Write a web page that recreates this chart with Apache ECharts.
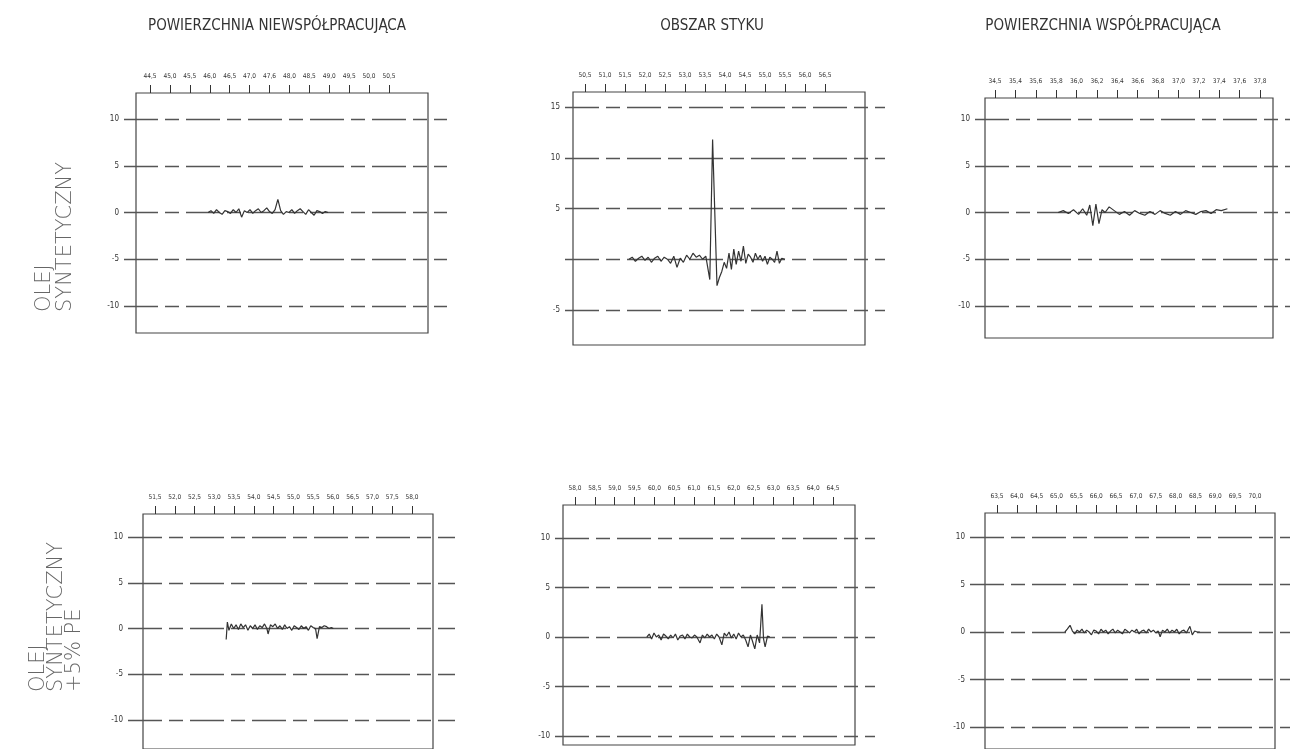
<!DOCTYPE html>
<html lang="pl">
<head>
<meta charset="utf-8">
<title>Olej syntetyczny</title>
<script src="https://cdn.jsdelivr.net/npm/echarts@6/dist/echarts.min.js"></script>
<style>
  html, body { margin: 0; padding: 0; background: #fff; }
  #chart { width: 1290px; height: 749px; }
</style>
</head>
<body>
<div id="chart"></div>
<script>
// naglowki kolumn i wierszy
const colTitles = ['POWIERZCHNIA NIEWSPÓŁPRACUJĄCA', 'OBSZAR STYKU', 'POWIERZCHNIA WSPÓŁPRACUJĄCA']
const rowTitles = ['OLEJ\nSYNTETYCZNY', 'OLEJ\nSYNTETYCZNY\n+5% PE']

// panel 1 - olej syntetyczny, powierzchnia niewspolpracujaca
const p1Ticks = [44.5, 45.0, 45.5, 46.0, 46.5, 47.0, 47.5, 48.0, 48.5, 49.0, 49.5, 50.0, 50.5]
const p1Labels = ['44,5', '45,0', '45,5', '46,0', '46,5', '47,0', '47,6', '48,0', '48,5', '49,0', '49,5', '50,0', '50,5']
const p1x = [45.96, 46.03, 46.10, 46.17, 46.24, 46.31, 46.38, 46.45, 46.52, 46.59, 46.66, 46.73, 46.80, 46.87, 46.94, 47.01, 47.08, 47.15, 47.22, 47.29, 47.36, 47.43, 47.50, 47.57, 47.64, 47.71, 47.78, 47.85, 47.92, 47.99, 48.06, 48.13, 48.20, 48.27, 48.34, 48.41, 48.48, 48.55, 48.62, 48.69, 48.76, 48.83, 48.90, 48.97]
const p1y = [0.0, 0.2, -0.1, 0.3, 0.0, -0.2, 0.2, 0.1, -0.1, 0.3, 0.0, 0.4, -0.5, 0.2, 0.0, 0.3, -0.1, 0.2, 0.4, 0.0, 0.2, 0.5, 0.1, -0.1, 0.3, 1.4, 0.2, -0.2, 0.1, 0.0, 0.3, -0.1, 0.2, 0.4, 0.1, -0.2, 0.3, 0.0, -0.3, 0.2, 0.1, -0.1, 0.1, 0.0]

// panel 2 - olej syntetyczny, obszar styku
const p2Ticks = [50.5, 51.0, 51.5, 52.0, 52.5, 53.0, 53.5, 54.0, 54.5, 55.0, 55.5, 56.0, 56.5]
const p2Labels = ['50,5', '51,0', '51,5', '52,0', '52,5', '53,0', '53,5', '54,0', '54,5', '55,0', '55,5', '56,0', '56,5']
const p2x = [51.60, 51.68, 51.76, 51.84, 51.92, 52.00, 52.08, 52.16, 52.24, 52.32, 52.40, 52.48, 52.56, 52.64, 52.72, 52.80, 52.88, 52.96, 53.04, 53.12, 53.20, 53.28, 53.36, 53.44, 53.52, 53.62, 53.69, 53.80, 53.86, 53.92, 53.98, 54.04, 54.10, 54.16, 54.22, 54.28, 54.34, 54.40, 54.46, 54.52, 54.58, 54.64, 54.70, 54.76, 54.82, 54.88, 54.94, 55.00, 55.06, 55.12, 55.18, 55.24, 55.30, 55.36, 55.42, 55.50]
const p2y = [0.0, 0.2, -0.2, 0.1, 0.3, -0.1, 0.2, -0.3, 0.1, 0.3, -0.2, 0.2, 0.0, -0.4, 0.3, -0.8, 0.1, -0.3, 0.4, 0.0, 0.6, 0.2, 0.4, 0.0, 0.3, -2.0, 11.8, -2.6, -1.8, -1.2, -0.3, -0.9, 0.6, -1.0, 1.0, -0.5, 0.8, -0.2, 1.3, -0.4, 0.5, 0.2, -0.3, 0.6, 0.0, 0.4, -0.2, 0.3, -0.5, 0.2, 0.0, -0.3, 0.8, -0.4, 0.1, 0.0]

// panel 3 - olej syntetyczny, powierzchnia wspolpracujaca
const p3Ticks = [35.2, 35.4, 35.6, 35.8, 36.0, 36.2, 36.4, 36.6, 36.8, 37.0, 37.2, 37.4, 37.6, 37.8]
const p3Labels = ['34,5', '35,4', '35,6', '35,8', '36,0', '36,2', '36,4', '36,6', '36,8', '37,0', '37,2', '37,4', '37,6', '37,8']
const p3x = [35.82, 35.87, 35.92, 35.97, 36.02, 36.06, 36.10, 36.13, 36.16, 36.19, 36.22, 36.25, 36.28, 36.32, 36.37, 36.42, 36.47, 36.52, 36.57, 36.62, 36.67, 36.72, 36.77, 36.82, 36.87, 36.92, 36.97, 37.02, 37.07, 37.12, 37.17, 37.22, 37.27, 37.32, 37.37, 37.42, 37.48]
const p3y = [0.0, 0.2, -0.1, 0.3, -0.2, 0.4, -0.3, 0.8, -1.4, 0.9, -1.2, 0.3, 0.0, 0.6, 0.2, -0.2, 0.1, -0.3, 0.2, -0.1, -0.3, 0.1, -0.2, 0.2, -0.1, -0.3, 0.1, -0.2, 0.2, 0.0, -0.2, 0.1, 0.2, -0.1, 0.3, 0.2, 0.4]

// panel 4 - olej + 5% PE, powierzchnia niewspolpracujaca
const p4Ticks = [51.5, 52.0, 52.5, 53.0, 53.5, 54.0, 54.5, 55.0, 55.5, 56.0, 56.5, 57.0, 57.5, 58.0]
const p4Labels = ['51,5', '52,0', '52,5', '53,0', '53,5', '54,0', '54,5', '55,0', '55,5', '56,0', '56,5', '57,0', '57,5', '58,0']
const p4x = [53.30, 53.33, 53.37, 53.43, 53.49, 53.55, 53.61, 53.67, 53.73, 53.79, 53.85, 53.91, 53.97, 54.03, 54.09, 54.15, 54.21, 54.27, 54.33, 54.36, 54.42, 54.48, 54.54, 54.60, 54.66, 54.72, 54.78, 54.84, 54.90, 54.96, 55.02, 55.08, 55.14, 55.20, 55.26, 55.32, 55.38, 55.44, 55.50, 55.56, 55.60, 55.66, 55.72, 55.78, 55.84, 55.90, 55.96, 56.01]
const p4y = [-1.2, 0.7, -0.2, 0.5, 0.0, 0.4, -0.1, 0.5, 0.1, 0.4, -0.2, 0.3, 0.0, 0.4, -0.1, 0.3, 0.1, 0.5, 0.0, -0.6, 0.4, 0.2, 0.5, 0.0, 0.3, -0.1, 0.4, 0.0, 0.2, -0.2, 0.3, 0.1, -0.1, 0.3, 0.0, 0.2, -0.2, 0.3, 0.1, 0.0, -1.1, 0.2, 0.1, 0.3, 0.2, 0.0, 0.1, 0.0]

// panel 5 - olej + 5% PE, obszar styku
const p5Ticks = [58.0, 58.5, 59.0, 59.5, 60.0, 60.5, 61.0, 61.5, 62.0, 62.5, 63.0, 63.5, 64.0, 64.5]
const p5Labels = ['58,0', '58,5', '59,0', '59,5', '60,0', '60,5', '61,0', '61,5', '62,0', '62,5', '63,0', '63,5', '64,0', '64,5']
const p5x = [59.81, 59.87, 59.93, 59.99, 60.05, 60.11, 60.17, 60.23, 60.29, 60.35, 60.41, 60.47, 60.53, 60.59, 60.65, 60.71, 60.77, 60.83, 60.89, 60.95, 61.01, 61.07, 61.15, 61.21, 61.27, 61.33, 61.39, 61.45, 61.51, 61.57, 61.63, 61.70, 61.76, 61.82, 61.88, 61.94, 62.00, 62.06, 62.12, 62.18, 62.24, 62.30, 62.36, 62.42, 62.47, 62.53, 62.59, 62.65, 62.71, 62.75, 62.79, 62.85, 62.91]
const p5y = [0.0, 0.3, -0.2, 0.4, 0.0, 0.2, -0.3, 0.3, 0.1, -0.2, 0.2, -0.1, 0.3, -0.3, 0.1, 0.2, -0.2, 0.3, 0.0, -0.1, 0.2, 0.0, -0.6, 0.2, -0.1, 0.3, 0.0, 0.2, -0.2, 0.3, 0.0, -0.8, 0.4, 0.1, 0.5, -0.1, 0.3, -0.2, 0.4, 0.0, 0.2, -0.3, -1.0, 0.2, -0.4, -1.2, 0.2, -0.6, 3.3, -0.2, -1.0, 0.1, 0.0]

// panel 6 - olej + 5% PE, powierzchnia wspolpracujaca
const p6Ticks = [63.5, 64.0, 64.5, 65.0, 65.5, 66.0, 66.5, 67.0, 67.5, 68.0, 68.5, 69.0, 69.5, 70.0]
const p6Labels = ['63,5', '64,0', '64,5', '65,0', '65,5', '66,0', '66,5', '67,0', '67,5', '68,0', '68,5', '69,0', '69,5', '70,0']
const p6x = [65.21, 65.27, 65.34, 65.40, 65.46, 65.52, 65.58, 65.64, 65.70, 65.76, 65.82, 65.88, 65.94, 66.00, 66.06, 66.12, 66.18, 66.24, 66.30, 66.36, 66.42, 66.48, 66.54, 66.60, 66.66, 66.72, 66.78, 66.84, 66.90, 66.96, 67.02, 67.08, 67.14, 67.20, 67.26, 67.32, 67.38, 67.44, 67.50, 67.56, 67.61, 67.67, 67.73, 67.79, 67.85, 67.91, 67.97, 68.03, 68.09, 68.15, 68.21, 68.27, 68.36, 68.42, 68.48, 68.54, 68.61]
const p6y = [0.0, 0.3, 0.7, 0.1, -0.2, 0.2, 0.0, 0.3, -0.1, 0.2, 0.0, -0.3, 0.2, 0.1, -0.2, 0.3, 0.0, 0.2, -0.2, 0.1, 0.3, -0.1, 0.2, 0.0, -0.2, 0.3, 0.1, -0.1, 0.2, 0.0, 0.3, -0.2, 0.1, 0.2, -0.1, 0.3, 0.0, 0.2, -0.1, 0.1, -0.5, 0.2, 0.0, 0.3, -0.1, 0.2, 0.0, 0.3, -0.2, 0.1, 0.2, -0.1, 0.6, -0.3, 0.1, 0.0, 0.0]

// uklad paneli w pikselach (ramka, zasieg linii siatki, polozenie skrajnych podzialek)
const panels = [
  { ticks: p1Ticks, labels: p1Labels, xs: p1x, ys: p1y, yMin: -10, yMax: 10, yPx: [119, 306], tickPx: [150, 389], box: [136, 428, 93, 333], lines: [124, 447] },
  { ticks: p2Ticks, labels: p2Labels, xs: p2x, ys: p2y, yMin: -5, yMax: 15, yPx: [107, 310], tickPx: [585, 825], box: [573, 865, 92, 345], lines: [565, 885], hideZero: true },
  { ticks: p3Ticks, labels: p3Labels, xs: p3x, ys: p3y, yMin: -10, yMax: 10, yPx: [119, 306], tickPx: [995, 1260], box: [985, 1273, 98, 338], lines: [975, 1290] },
  { ticks: p4Ticks, labels: p4Labels, xs: p4x, ys: p4y, yMin: -10, yMax: 10, yPx: [537, 720], tickPx: [155, 412], box: [143, 433, 514, 770], lines: [128, 455] },
  { ticks: p5Ticks, labels: p5Labels, xs: p5x, ys: p5y, yMin: -10, yMax: 10, yPx: [538, 736], tickPx: [575, 833], box: [563, 855, 505, 745], lines: [555, 875] },
  { ticks: p6Ticks, labels: p6Labels, xs: p6x, ys: p6y, yMin: -10, yMax: 10, yPx: [537, 727], tickPx: [997, 1255], box: [985, 1275, 513, 770], lines: [970, 1290] },
]

const smallFont = '\'Liberation Sans Narrow\', \'DejaVu Sans Condensed\', sans-serif'
const gridDash = [34, 7, 14, 7]

const grid = []
const xAxis = []
const yAxis = []
const series = []

panels.forEach((p, i) => {
  const n = p.ticks.length - 1
  const scale = (p.tickPx[1] - p.tickPx[0]) / (p.ticks[n] - p.ticks[0])
  const valAt = px => p.ticks[0] + (px - p.tickPx[0]) / scale
  const labelOf = (v) => {
    const k = p.ticks.findIndex(t => Math.abs(t - v) < 1e-6)
    return k >= 0 ? p.labels[k] : ''
  }

  // siatka z przerywanymi liniami i opisem osi Y
  grid.push({ left: p.lines[0], width: p.lines[1] - p.lines[0], top: p.yPx[0], height: p.yPx[1] - p.yPx[0] })
  xAxis.push({ gridIndex: 2 * i, type: 'value', show: false, min: valAt(p.lines[0]), max: valAt(p.lines[1]) })
  yAxis.push({
    gridIndex: 2 * i,
    type: 'value',
    min: p.yMin,
    max: p.yMax,
    interval: 5,
    axisLine: { show: false },
    axisTick: { show: false },
    axisLabel: {
      fontSize: 8,
      color: '#333',
      margin: 5,
      fontFamily: smallFont,
      formatter: v => (p.hideZero && v === 0) ? '' : String(v),
    },
    splitLine: { show: true, lineStyle: { color: '#555', width: 1.3, type: gridDash } },
  })

  // ramka z podzialka u gory
  grid.push({
    left: p.box[0],
    width: p.box[1] - p.box[0],
    top: p.box[2],
    height: p.box[3] - p.box[2],
    show: true,
    borderColor: '#444',
    borderWidth: 1.2,
  })
  xAxis.push({
    gridIndex: 2 * i + 1,
    type: 'value',
    position: 'top',
    min: valAt(p.box[0]),
    max: valAt(p.box[1]),
    axisLine: { show: false, onZero: false },
    axisTick: { show: true, length: 8, customValues: p.ticks, lineStyle: { color: '#333', width: 1 } },
    axisLabel: { customValues: p.ticks, fontSize: 6.5, color: '#333', margin: 13, fontFamily: smallFont, formatter: labelOf },
    splitLine: { show: false },
  })
  yAxis.push({ gridIndex: 2 * i + 1, type: 'value', show: false, min: 0, max: 1 })

  series.push({
    type: 'line',
    xAxisIndex: 2 * i,
    yAxisIndex: 2 * i,
    data: p.xs.map((x, k) => [x, p.ys[k]]),
    showSymbol: false,
    silent: true,
    lineStyle: { color: '#333', width: 1.2 },
  })
})

const titleFont = '15px \'DejaVu Sans Condensed\', sans-serif'
const rowFont = '200 21px \'DejaVu Sans\', sans-serif'
const graphic = [
  { type: 'text', x: 277, y: 19, style: { text: colTitles[0], align: 'center', fill: '#333', font: titleFont } },
  { type: 'text', x: 712, y: 19, style: { text: colTitles[1], align: 'center', fill: '#333', font: titleFont } },
  { type: 'text', x: 1103, y: 19, style: { text: colTitles[2], align: 'center', fill: '#333', font: titleFont } },
  { type: 'text', x: 34, y: 312, rotation: Math.PI / 2, style: { text: rowTitles[0], align: 'left', verticalAlign: 'top', lineHeight: 21, fill: '#666', font: rowFont } },
  { type: 'text', x: 30, y: 692, rotation: Math.PI / 2, style: { text: rowTitles[1], align: 'left', verticalAlign: 'top', lineHeight: 18, fill: '#666', font: rowFont } },
]

const chart = echarts.init(document.getElementById('chart'))
chart.setOption({
  animation: false,
  backgroundColor: '#fff',
  grid,
  xAxis,
  yAxis,
  series,
  graphic,
})
window.addEventListener('resize', () => chart.resize())
</script>
</body>
</html>
